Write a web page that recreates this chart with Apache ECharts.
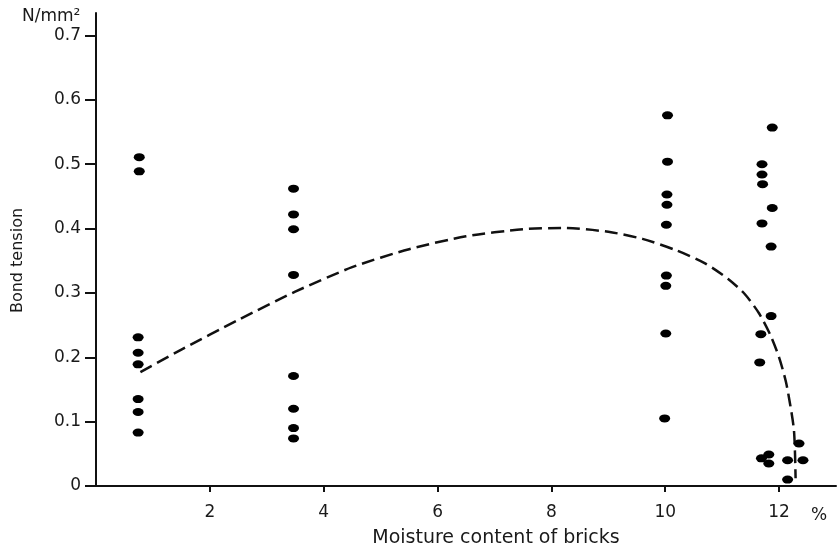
<!DOCTYPE html>
<html>
<head>
<meta charset="utf-8">
<script src="https://cdn.jsdelivr.net/npm/echarts@6.0.0/dist/echarts.min.js"></script>
<style>html,body{margin:0;padding:0;background:#fff}#c{width:837px;height:551px}</style>
</head>
<body>
<div id="c"></div>
<script>
// Tick values
var xTicks = [2, 4, 6, 8, 10, 12];
var yTicks = [0, 0.1, 0.2, 0.3, 0.4, 0.5, 0.6, 0.7];

// Measured points: moisture content (%) and bond tension (N/mm²)
var col1X = [0.76, 0.76, 0.74, 0.74, 0.74, 0.74, 0.74, 0.74];
var col1Y = [0.511, 0.489, 0.231, 0.207, 0.189, 0.135, 0.115, 0.083];
var col2X = [3.47, 3.47, 3.47, 3.47, 3.47, 3.47, 3.47, 3.47];
var col2Y = [0.462, 0.422, 0.399, 0.328, 0.171, 0.120, 0.090, 0.074];
var col3X = [10.04, 10.04, 10.03, 10.03, 10.02, 10.02, 10.01, 10.01, 9.99];
var col3Y = [0.576, 0.504, 0.453, 0.437, 0.406, 0.327, 0.311, 0.237, 0.105];
var col4X = [11.88, 11.70, 11.70, 11.71, 11.88, 11.70, 11.86, 11.86, 11.68, 11.66, 11.69, 11.82, 11.82, 12.35, 12.15, 12.42, 12.15];
var col4Y = [0.557, 0.500, 0.484, 0.469, 0.432, 0.408, 0.372, 0.264, 0.236, 0.192, 0.043, 0.049, 0.035, 0.066, 0.040, 0.040, 0.010];

// Dashed trend curve
var curveX = [0.78, 1.5, 2.5, 3.5, 4.5, 5.5, 6.5, 7.5, 8.2, 9.0, 9.6, 10.2, 10.7, 11.1, 11.4, 11.65, 11.85, 12.0, 12.12, 12.2, 12.26, 12.28, 12.29];
var curveY = [0.177, 0.212, 0.258, 0.302, 0.340, 0.368, 0.388, 0.399, 0.401, 0.395, 0.384, 0.366, 0.346, 0.322, 0.298, 0.268, 0.234, 0.200, 0.162, 0.124, 0.088, 0.050, 0.012];

function zip(a, b) { return a.map(function (v, i) { return [v, b[i]]; }); }
var points = [].concat(zip(col1X, col1Y), zip(col2X, col2Y), zip(col3X, col3Y), zip(col4X, col4Y));
var curve = zip(curveX, curveY);

var FONT = 'DejaVu Sans';
var chart = echarts.init(document.getElementById('c'), null, { renderer: 'canvas' });
chart.setOption({
  animation: false,
  backgroundColor: '#ffffff',
  title: [
    { text: 'N/mm²', left: 17, top: 3, textStyle: { fontFamily: FONT, fontSize: 17, fontWeight: 'normal', color: '#1a1a1a' } },
    { text: '%', left: 806, top: 502, textStyle: { fontFamily: FONT, fontSize: 17, fontWeight: 'normal', color: '#1a1a1a' } }
  ],
  grid: { left: 96, right: 1, top: 13, bottom: 65, containLabel: false, outerBoundsMode: 'none' },
  xAxis: {
    type: 'value', min: 0, max: 13,
    name: 'Moisture content of bricks', nameLocation: 'middle', nameGap: 43,
    nameTextStyle: { fontFamily: FONT, fontSize: 19, color: '#1a1a1a', padding: [0, 0, 0, 60] },
    axisLine: { show: true, onZero: false, lineStyle: { color: '#111', width: 2 } },
    axisTick: { show: true, length: 6, customValues: xTicks, lineStyle: { color: '#111', width: 2 } },
    axisLabel: { customValues: xTicks, margin: 18, fontFamily: FONT, fontSize: 17, color: '#1a1a1a' },
    splitLine: { show: false }
  },
  yAxis: {
    type: 'value', min: 0, max: 0.735,
    name: 'Bond tension', nameLocation: 'middle', nameGap: 70, nameRotate: 90,
    nameTextStyle: { fontFamily: FONT, fontSize: 16, color: '#1a1a1a', padding: [0, 22, 0, 0] },
    axisLine: { show: true, onZero: false, lineStyle: { color: '#111', width: 2 } },
    axisTick: { show: true, length: 11, customValues: yTicks, lineStyle: { color: '#111', width: 2 } },
    axisLabel: { customValues: yTicks, margin: 15, fontFamily: FONT, fontSize: 17, color: '#1a1a1a' },
    splitLine: { show: false }
  },
  series: [
    {
      type: 'line', data: curve, symbol: 'none', smooth: 0.25,
      lineStyle: { color: '#111', width: 2.5, type: [13, 6] }, z: 2
    },
    {
      type: 'scatter', data: points, symbol: 'circle', symbolSize: [11, 8],
      itemStyle: { color: '#000', opacity: 1 }, z: 3
    }
  ]
});
</script>
</body>
</html>
